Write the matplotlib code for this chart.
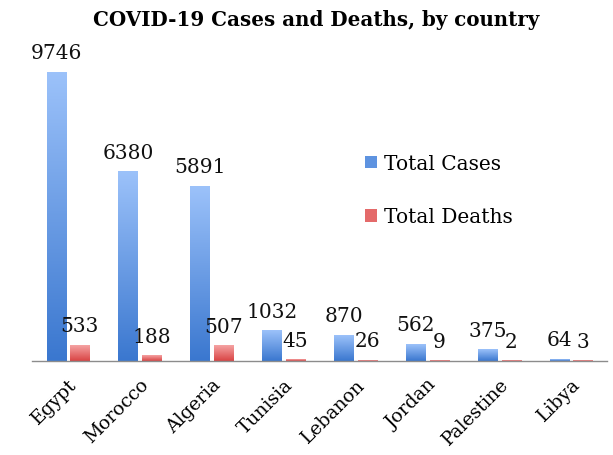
import matplotlib
matplotlib.use('Agg')
import matplotlib.pyplot as plt
import matplotlib.patches as mpatches
from matplotlib.colors import LinearSegmentedColormap
import numpy as np

countries = ['Egypt', 'Morocco', 'Algeria', 'Tunisia', 'Lebanon', 'Jordan', 'Palestine', 'Libya']
total_cases = [9746, 6380, 5891, 1032, 870, 562, 375, 64]
total_deaths = [533, 188, 507, 45, 26, 9, 2, 3]

FONT = 'DejaVu Serif'
BLUE_TOP, BLUE_BOT = '#9CC2FA', '#3A77CF'
RED_TOP, RED_BOT = '#F5A3A3', '#D94444'

fig = plt.figure(figsize=(6.13, 4.56), dpi=100)
W, H = 613, 456
ax = fig.add_axes([32 / W, (H - 362) / H, (607 - 32) / W, (362 - 40) / H])

x = np.arange(len(countries))
bw = 0.265
off = 0.165
ymax = 9746 * 322 / 289

def grad_bars(xs, vals, top, bot):
    cmap = LinearSegmentedColormap.from_list('g', [bot, top])
    grad = np.linspace(0, 1, 256).reshape(-1, 1)
    bars = ax.bar(xs, vals, bw, color='none', edgecolor='none')
    for b in bars:
        x0, w, h = b.get_x(), b.get_width(), b.get_height()
        if h <= 0:
            continue
        ax.imshow(grad, cmap=cmap, origin='lower', aspect='auto',
                  extent=(x0, x0 + w, 0, max(h, ymax * 0.002)), zorder=2)
    return bars

grad_bars(x - off, total_cases, BLUE_TOP, BLUE_BOT)
grad_bars(x + off, total_deaths, RED_TOP, RED_BOT)

for xi, v in zip(x - off, total_cases):
    ax.annotate(str(v), (xi, v), xytext=(0, 10), textcoords='offset points',
                ha='center', va='baseline', fontsize=14.5, family=FONT, color='#111111')
for xi, v in zip(x + off, total_deaths):
    ax.annotate(str(v), (xi, v), xytext=(0, 10), textcoords='offset points',
                ha='center', va='baseline', fontsize=14.5, family=FONT, color='#111111')

ax.set_xlim(-0.5, len(countries) - 0.5)
ax.set_ylim(0, ymax)
ax.set_xticks(x)
ax.set_xticklabels(countries, rotation=45, ha='right', rotation_mode='anchor',
                   fontsize=13.5, family=FONT)
ax.tick_params(axis='x', length=0, pad=10)
ax.set_yticks([])
for s in ['top', 'right', 'left']:
    ax.spines[s].set_visible(False)
ax.spines['bottom'].set_color('#8C8C8C')
ax.spines['bottom'].set_linewidth(1.0)

handles = [mpatches.Patch(facecolor='#5E93E0', edgecolor='none', label='Total Cases'),
           mpatches.Patch(facecolor='#E46A6A', edgecolor='none', label='Total Deaths')]
fig.legend(handles=handles, loc='upper left', bbox_to_anchor=(365 / W, 1 - 155 / H),
           frameon=False, prop={'family': FONT, 'size': 14.5}, labelspacing=1.7,
           handlelength=0.6, handleheight=0.6, handletextpad=0.35, borderpad=0,
           borderaxespad=0)

fig.text(316 / W, 1 - 20 / H, 'COVID-19 Cases and Deaths, by country', ha='center',
         va='center', fontsize=14.3, fontweight='bold', family=FONT)

fig.savefig('out.png', dpi=100)
